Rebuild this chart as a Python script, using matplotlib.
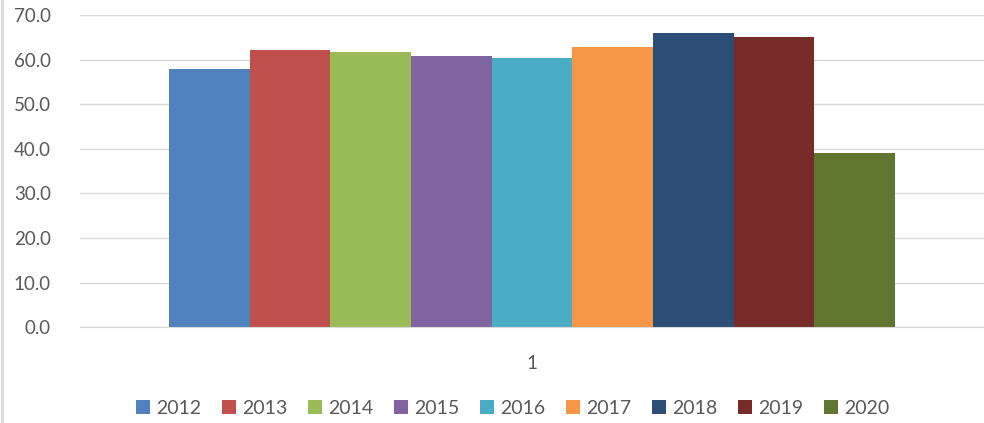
import numpy as np
import matplotlib
matplotlib.use("Agg")
import matplotlib.pyplot as plt
from matplotlib.lines import Line2D

# series data (one category "1")
years = ['2012', '2013', '2014', '2015', '2016', '2017', '2018', '2019', '2020']
values = [57.9, 62.2, 61.7, 60.9, 60.4, 62.8, 65.9, 65.1, 39.0]
colors = ['#4F81BD', '#C0504D', '#9BBB59', '#8064A2', '#4BACC6',
          '#F79646', '#2C4D75', '#772C2A', '#5F7530']
category = '1'

plt.rcParams['font.family'] = ['Lato', 'DejaVu Sans']

fig = plt.figure(figsize=(9.84, 4.23), dpi=100)
ax = fig.add_axes([80 / 984, 1 - 327.3 / 423, 904 / 984, (327.3 - 15) / 423])

n = len(years)
width = 0.8 / n
handles = []
for i, (yr, v, c) in enumerate(zip(years, values, colors)):
    x = -0.4 + width * (i + 0.5)
    b = ax.bar(x, v, width=width, color=c, edgecolor='none', label=yr)
    handles.append(b)

ax.set_xlim(-0.4 - 0.0978, 0.4 + 0.0978)
ax.set_ylim(0, 70)
ax.set_yticks(np.arange(0, 71, 10))
ax.set_yticklabels(['%.1f' % t for t in np.arange(0, 71, 10)])
ax.set_xticks([0])
ax.set_xticklabels([category])
ax.tick_params(axis='both', length=0, labelsize=13.5, colors='#595959')
ax.tick_params(axis='x', pad=20)
ax.tick_params(axis='y', pad=21)
ax.yaxis.grid(True, color='#d9d9d9', linewidth=1)
ax.set_axisbelow(True)
for s in ['top', 'right', 'left']:
    ax.spines[s].set_visible(False)
ax.spines['bottom'].set_color('#d9d9d9')

leg = fig.legend(handles=handles, labels=years, loc='center', ncol=n,
                 bbox_to_anchor=(0.521, 1 - 408 / 423), frameon=False,
                 fontsize=14, handlelength=0.75, handleheight=0.75,
                 handletextpad=0.3, columnspacing=1.05, labelcolor='#595959')

# left frame edge of the chart
fig.add_artist(Line2D([0.002, 0.002], [0, 1], color='#d9d9d9', linewidth=2,
                      transform=fig.transFigure))

fig.savefig('out.png', dpi=100, facecolor='white')
